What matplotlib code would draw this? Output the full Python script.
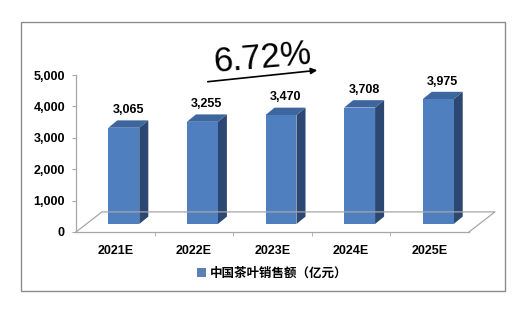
import matplotlib
matplotlib.use('Agg')
import matplotlib.pyplot as plt
from matplotlib.patches import Polygon, Rectangle, Patch
import numpy as np

years = ['2021E', '2022E', '2023E', '2024E', '2025E']
sales = [3065, 3255, 3470, 3708, 3975]
value_labels = ['3,065', '3,255', '3,470', '3,708', '3,975']
yticks = [0, 1000, 2000, 3000, 4000, 5000]
ytick_labels = ['0', '1,000', '2,000', '3,000', '4,000', '5,000']
growth = '6.72%'
series_name = '中国茶叶销售额（亿元）'

W, H = 520, 310
fig = plt.figure(figsize=(W / 100, H / 100), dpi=100)
fig.patch.set_facecolor('white')

# front plane of the 3d plot area (pixels -> figure fraction)
x0, x1, yb, yt = 76, 469, 232, 75
ax = fig.add_axes([x0 / W, 1 - yb / H, (x1 - x0) / W, (yb - yt) / H])
ax.set_xlim(-0.5, len(years) - 0.5)
ax.set_ylim(0, 5000)
ax.patch.set_alpha(0)

# 3d offsets in data units
ox, oy = 0.108, 255      # bars sit a little back on the floor
dx, dy = 0.115, 235      # bar depth
fx, fy = 0.33, 640       # floor depth
hw = 0.197               # half width of bar front

gray = '#a6a6a6'
n = len(years)
# floor
ax.plot([-0.5, -0.5 + fx, n - 0.5 + fx, n - 0.5],
        [0, fy, fy, 0], color=gray, lw=0.9, clip_on=False)

front_c = '#4f7fbf'
side_c = '#2c4771'
top_c = '#3d659e'
for i, v in enumerate(sales):
    cx = i + ox
    b = oy
    t = v + oy
    l, r = cx - hw, cx + hw
    ax.add_patch(Polygon([[r, b], [r + dx, b + dy], [r + dx, t + dy], [r, t]],
                         closed=True, fc=side_c, ec='none', clip_on=False))
    ax.add_patch(Polygon([[l, t], [r, t], [r + dx, t + dy], [l + dx, t + dy]],
                         closed=True, fc=top_c, ec='none', clip_on=False))
    ax.add_patch(Rectangle((l, b), 2 * hw, v, fc=front_c, ec='none', clip_on=False))
    ax.annotate(value_labels[i], (cx + dx / 2, t + dy), xytext=(0, 3),
                textcoords='offset points', ha='center', va='bottom',
                fontsize=9, fontweight='bold', family='Liberation Sans')

for s in ['top', 'right']:
    ax.spines[s].set_visible(False)
ax.spines['left'].set_color(gray)
ax.spines['bottom'].set_color(gray)
ax.spines['left'].set_linewidth(0.9)
ax.spines['bottom'].set_linewidth(0.9)

ax.set_yticks(yticks)
ax.set_yticklabels(ytick_labels, fontsize=9, fontweight='bold', family='Liberation Sans')
ax.tick_params(axis='y', length=3, color=gray, pad=5)
ax.set_xticks(range(n))
ax.set_xticklabels(years, fontsize=9, fontweight='bold', family='Liberation Sans')
ax.set_xticks(np.arange(0.5, n - 0.5, 1), minor=True)
ax.tick_params(axis='x', which='major', length=0, pad=9)
ax.tick_params(axis='x', which='minor', length=3, color=gray)

# growth annotation
fig.text(262 / W, 1 - 58 / H, growth, fontsize=25, family='Liberation Sans',
         ha='center', va='center', rotation=5)
fig.add_artist(matplotlib.patches.FancyArrowPatch(
    (205 / W, 1 - 82 / H), (320 / W, 1 - 70 / H), transform=fig.transFigure,
    arrowstyle='-|>', mutation_scale=9, lw=1.2, color='black'))

# outer frame
fig.add_artist(Rectangle((21 / W, 1 - 291 / H), (505 - 21) / W, (291 - 22) / H,
                         transform=fig.transFigure, fill=False, ec='#8c8c8c', lw=1))

leg = fig.legend(handles=[Patch(fc='#5a80b4', ec='none', label=series_name)],
                 loc='center', bbox_to_anchor=(272 / W, 1 - 273 / H), frameon=False,
                 handlelength=0.7, handleheight=0.7, handletextpad=0.3,
                 prop={'family': ['Noto Sans CJK SC', 'DejaVu Sans'], 'weight': 'bold', 'size': 9})

fig.savefig('out.png', dpi=100, facecolor='white')
